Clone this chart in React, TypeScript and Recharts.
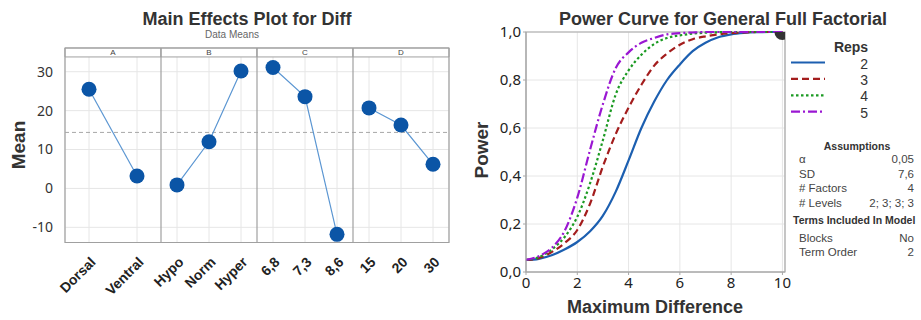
import React from 'react';
import {
  ComposedChart, LineChart, Line, XAxis, YAxis, CartesianGrid,
  ReferenceLine, ReferenceArea, ReferenceDot,
} from 'recharts';

// ---- main effects data (means per factor level) ----
const factors = ['A', 'B', 'C', 'D'];
const levelsA = ['Dorsal', 'Ventral'];
const meansA = [25.5, 3.2];
const levelsB = ['Hypo', 'Norm', 'Hyper'];
const meansB = [0.9, 12.0, 30.2];
const levelsC = ['6,8', '7,3', '8,6'];
const meansC = [31.1, 23.6, -11.8];
const levelsD = ['15', '20', '30'];
const meansD = [20.7, 16.3, 6.2];
const grandMean = 14.4;
const meanTicks = [-10, 0, 10, 20, 30];

// ---- power curve data ----
const maxDiff = [0, 0.5, 1, 1.5, 2, 2.5, 3, 3.5, 4, 4.5, 5, 5.5, 6, 6.5, 7, 7.5, 8, 8.5, 9, 9.5, 10];
const power2 = [0.05, 0.055, 0.07, 0.094, 0.125, 0.17, 0.235, 0.335, 0.465, 0.6, 0.71, 0.8, 0.865, 0.92, 0.955, 0.978, 0.99, 0.996, 0.999, 1, 1];
const power3 = [0.05, 0.058, 0.083, 0.12, 0.175, 0.285, 0.44, 0.575, 0.685, 0.78, 0.86, 0.91, 0.947, 0.97, 0.982, 0.99, 0.995, 0.998, 1, 1, 1];
const power4 = [0.05, 0.062, 0.093, 0.145, 0.23, 0.37, 0.55, 0.74, 0.84, 0.905, 0.95, 0.975, 0.986, 0.993, 0.997, 0.999, 1, 1, 1, 1, 1];
const power5 = [0.05, 0.066, 0.1, 0.17, 0.31, 0.51, 0.7, 0.85, 0.915, 0.955, 0.975, 0.99, 0.995, 0.998, 1, 1, 1, 1, 1, 1, 1];
const reps = ['2', '3', '4', '5'];
const powerTicksX = [0, 2, 4, 6, 8, 10];
const powerTicksY = [0, 0.2, 0.4, 0.6, 0.8, 1];

const assumptions = [
  ['α', '0,05'],
  ['SD', '7,6'],
  ['# Factors', '4'],
  ['# Levels', '2; 3; 3; 3'],
];
const termsInModel = [
  ['Blocks', 'No'],
  ['Term Order', '2'],
];

const FONT = '"Liberation Sans", Arial, sans-serif';
const TICK_FONT = '"Noto Sans", "Liberation Sans", sans-serif';

// build main effects table: each factor gets its own column so lines break between panels
const levelSets = [levelsA, levelsB, levelsC, levelsD];
const meanSets = [meansA, meansB, meansC, meansD];
const effectRows: any[] = [];
const effectLabels: string[] = [];
levelSets.forEach((lv, p) => {
  lv.forEach((name, i) => {
    const row: any = { pos: p + (i + 0.5) / lv.length };
    row[factors[p]] = meanSets[p][i];
    effectRows.push(row);
    effectLabels.push(name);
  });
});
const effectTicks = effectRows.map((r) => r.pos);

const powerRows = maxDiff.map((x, i) => ({
  x, r2: power2[i], r3: power3[i], r4: power4[i], r5: power5[i],
}));

const series = [
  { key: 'r2', name: reps[0], color: '#1c5fb0', dash: undefined as string | undefined },
  { key: 'r3', name: reps[1], color: '#a31d1d', dash: '7 4' },
  { key: 'r4', name: reps[2], color: '#1b9a22', dash: '2.5 2.5' },
  { key: 'r5', name: reps[3], color: '#9a17d2', dash: '9 3 2 3' },
];

const Y_MIN = -13.9;
const Y_MAX = 36.1;
const STRIP_BOTTOM = 33.8;

const RotatedTick = (props: any) => {
  const { x, y, index } = props;
  const ax = x + 4;
  const ay = y + 9;
  return (
    <text x={ax} y={ay} dy="0.35em" textAnchor="end" transform={`rotate(-45 ${ax} ${ay})`}
      fontFamily={FONT} fontWeight="bold" fontSize={14} fill="#222">
      {effectLabels[index]}
    </text>
  );
};

const fmtComma = (v: number) => v.toFixed(1).replace('.', ',');

const RepsLegend = () => (
  <svg width={100} height={90} style={{ display: 'block', overflow: 'visible' }}>
    <text x={61} y={14} textAnchor="middle" fontFamily={FONT} fontWeight="bold" fontSize={14} fill="#333">Reps</text>
    {series.map((s, i) => (
      <g key={s.key}>
        <line x1={1} x2={35} y1={24.5 + i * 16.4} y2={24.5 + i * 16.4} stroke={s.color} strokeWidth={2.2} strokeDasharray={s.dash} />
        <text x={78} y={30.5 + i * 16.4} textAnchor="end" fontFamily={FONT} fontSize={14} fill="#333">{s.name}</text>
      </g>
    ))}
  </svg>
);

export default function App() {
  return (
    <div style={{ position: 'absolute', left: 0, top: 0, width: 921, height: 320, background: '#fff', overflow: 'hidden' }}>
      {/* left: main effects */}
      <div style={{ position: 'absolute', left: 0, top: 0 }}>
        <ComposedChart width={460} height={320} data={effectRows} margin={{ top: 48, right: 11, left: 0, bottom: 0 }}>
          <CartesianGrid stroke="#e6e6e6" />
          <XAxis dataKey="pos" type="number" domain={[0, 4]} ticks={effectTicks} interval={0}
            tick={<RotatedTick />} tickLine={false} axisLine={false} height={77.5} />
          <YAxis type="number" domain={[Y_MIN, Y_MAX]} ticks={meanTicks} allowDataOverflow width={65}
            tickLine={false} axisLine={false} tickMargin={6}
            tick={{ fontFamily: TICK_FONT, fontSize: 14, fill: '#333' }} />
          <ReferenceLine y={grandMean} stroke="#a8a8a8" strokeDasharray="4 3" />
          {factors.map((f, p) => (
            <ReferenceArea key={f} x1={p} x2={p + 1} y1={STRIP_BOTTOM} y2={Y_MAX} fill="#fff" fillOpacity={1}
              stroke="#a0a0a0" strokeWidth={1}
              label={{ value: f, position: 'center', fontSize: 8, fill: '#444', fontFamily: FONT }} />
          ))}
          {[1, 2, 3].map((v) => (
            <ReferenceLine key={v} x={v} stroke="#a0a0a0" strokeWidth={1.2} />
          ))}
          <ReferenceArea x1={0} x2={4} y1={Y_MIN} y2={Y_MAX} fill="none" stroke="#a0a0a0" strokeWidth={1.2} />
          {factors.map((f) => (
            <Line key={f} dataKey={f} type="linear" stroke="#5b96d2" strokeWidth={1.2} connectNulls={false}
              dot={{ r: 7.5, fill: '#0b55a6', stroke: '#0b55a6', strokeWidth: 0 }} activeDot={false}
              isAnimationActive={false} />
          ))}
        </ComposedChart>
      </div>

      {/* right: power curve */}
      <div style={{ position: 'absolute', left: 460, top: 0 }}>
        <LineChart width={461} height={320} data={powerRows} margin={{ top: 32, right: 136, left: 0, bottom: 0 }}>
          <CartesianGrid stroke="#e6e6e6" />
          <XAxis dataKey="x" type="number" domain={[0, 10.1]} ticks={powerTicksX} allowDataOverflow height={48}
            tickSize={3} tickMargin={2} stroke="#a8a8a8"
            tick={{ fontFamily: TICK_FONT, fontSize: 15, fill: '#222' }} />
          <YAxis type="number" domain={[0, 1]} ticks={powerTicksY} width={66} tickFormatter={fmtComma}
            tickSize={3} tickMargin={2} stroke="#a8a8a8"
            tick={{ fontFamily: TICK_FONT, fontSize: 15, fill: '#222' }} />
          <ReferenceArea x1={0} x2={10.1} y1={0} y2={1} fill="none" stroke="#a8a8a8" strokeWidth={1.2} />
          {series.map((s) => (
            <Line key={s.key} dataKey={s.key} name={s.name} type="monotone" stroke={s.color} strokeWidth={2.2}
              strokeDasharray={s.dash} dot={false} activeDot={false} isAnimationActive={false} />
          ))}
          <ReferenceDot x={10} y={1} r={8} fill="#333" stroke="none" ifOverflow="hidden" />
        </LineChart>
      </div>

      {/* legend */}
      <div style={{ position: 'absolute', left: 790, top: 38 }}>
        <RepsLegend />
      </div>

      {/* titles, axis titles and assumption notes */}
      <svg width={921} height={320} style={{ position: 'absolute', left: 0, top: 0, pointerEvents: 'none' }}>
        <text x={247} y={25} textAnchor="middle" fontFamily={FONT} fontWeight="bold" fontSize={18} fill="#333">Main Effects Plot for Diff</text>
        <text x={232} y={38} textAnchor="middle" fontFamily={FONT} fontSize={10} fill="#666">Data Means</text>
        <text x={25} y={145} textAnchor="middle" transform="rotate(-90 25 145)" fontFamily={FONT} fontWeight="bold" fontSize={19} fill="#333">Mean</text>

        <text x={723} y={25} textAnchor="middle" fontFamily={FONT} fontWeight="bold" fontSize={18} fill="#333">Power Curve for General Full Factorial</text>
        <text x={488} y={150} textAnchor="middle" transform="rotate(-90 488 150)" fontFamily={FONT} fontWeight="bold" fontSize={19} fill="#333">Power</text>
        <text x={655} y={313} textAnchor="middle" fontFamily={FONT} fontWeight="bold" fontSize={18} fill="#333">Maximum Difference</text>

        <text x={857} y={150} textAnchor="middle" fontFamily={FONT} fontWeight="bold" fontSize={10.5} fill="#333">Assumptions</text>
        {assumptions.map(([k, v], i) => (
          <g key={k}>
            <text x={799} y={163 + i * 14.5} fontFamily={FONT} fontSize={11.5} fill="#444">{k}</text>
            <text x={914} y={163 + i * 14.5} textAnchor="end" fontFamily={FONT} fontSize={11.5} fill="#444">{v}</text>
          </g>
        ))}
        <text x={793} y={224} fontFamily={FONT} fontWeight="bold" fontSize={10.5} fill="#333">Terms Included In Model</text>
        {termsInModel.map(([k, v], i) => (
          <g key={k}>
            <text x={799} y={241.5 + i * 14} fontFamily={FONT} fontSize={11.5} fill="#444">{k}</text>
            <text x={914} y={241.5 + i * 14} textAnchor="end" fontFamily={FONT} fontSize={11.5} fill="#444">{v}</text>
          </g>
        ))}
      </svg>
    </div>
  );
}
